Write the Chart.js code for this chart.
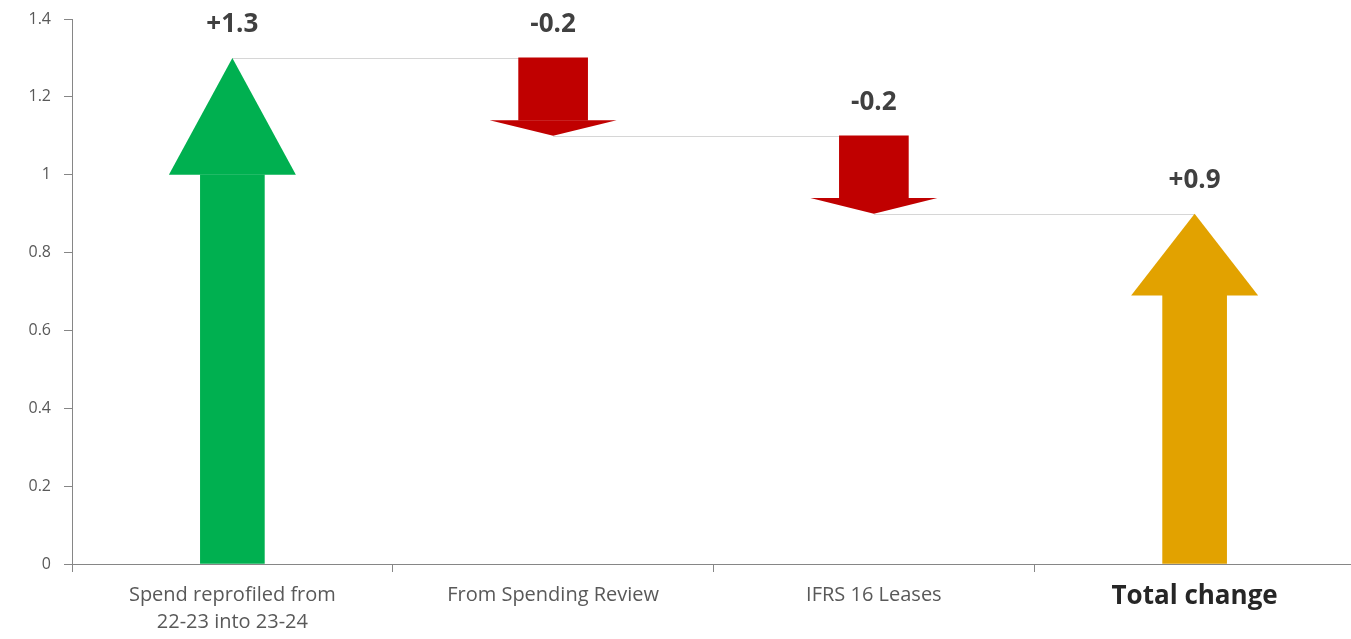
<!DOCTYPE html>
<html lang="en">
<head>
    <meta charset="UTF-8">
    <title>Waterfall</title>
    <script src="https://cdn.jsdelivr.net/npm/chart.js"></script>
    <style>
        body {
            margin: 0;
            background: #ffffff;
            overflow: hidden;
        }
        .wrap {
            width: 1355px;
            height: 639px;
        }
    </style>
</head>
<body>
    <div class="wrap"><canvas id="grafica"></canvas></div>

    <script>
        // Datos
        const categorias = [['Spend reprofiled from', '22-23 into 23-24'], 'From Spending Review', 'IFRS 16 Leases', 'Total change'];
        const inicios = [0, 1.3, 1.1, 0];
        const finales = [1.3, 1.1, 0.9, 0.9];
        const baseCabeza = [1.0, 1.14, 0.94, 0.69];   // donde empieza la punta de cada flecha
        const etiquetas = ['+1.3', '-0.2', '-0.2', '+0.9'];
        const tipos = ['sube', 'baja', 'baja', 'total'];
        const ticksY = [0, 0.2, 0.4, 0.6, 0.8, 1, 1.2, 1.4];

        const colores = { sube: '#00B050', baja: '#C00000', total: '#E2A200' };

        function tramo(tipo) {
            return categorias.map((c, i) => tipos[i] === tipo ? [inicios[i], baseCabeza[i]] : null);
        }

        // Lineas de union, puntas de flecha y etiquetas
        const flechas = {
            id: 'flechas',
            beforeDatasetsDraw(chart) {
                const { ctx, scales: { x, y } } = chart;
                ctx.save();
                ctx.strokeStyle = '#d6d6d6';
                ctx.lineWidth = 1;
                for (let i = 0; i < finales.length - 1; i++) {
                    const yy = Math.round(y.getPixelForValue(finales[i])) + 0.5;
                    ctx.beginPath();
                    ctx.moveTo(x.getPixelForValue(i), yy);
                    ctx.lineTo(x.getPixelForValue(i + 1), yy);
                    ctx.stroke();
                }
                ctx.restore();
            },
            afterDatasetsDraw(chart) {
                const { ctx, scales: { x, y } } = chart;
                ctx.save();
                finales.forEach((fin, i) => {
                    const cx = x.getPixelForValue(i);
                    const yb = y.getPixelForValue(baseCabeza[i]);
                    const yt = y.getPixelForValue(fin);
                    const medio = 63.5;
                    ctx.fillStyle = colores[tipos[i]];
                    ctx.beginPath();
                    ctx.moveTo(cx - medio, yb);
                    ctx.lineTo(cx + medio, yb);
                    ctx.lineTo(cx, yt);
                    ctx.closePath();
                    ctx.fill();

                    const arriba = y.getPixelForValue(Math.max(inicios[i], fin));
                    ctx.fillStyle = '#404040';
                    ctx.font = 'bold 26px "Open Sans"';
                    ctx.textAlign = 'center';
                    ctx.textBaseline = 'middle';
                    ctx.fillText(etiquetas[i], cx, arriba - 33);
                });
                ctx.restore();
            }
        };

        const datasetBase = { grouped: false, borderWidth: 0, borderSkipped: false };

        new Chart(document.getElementById('grafica'), {
            type: 'bar',
            data: {
                labels: categorias,
                datasets: [
                    { ...datasetBase, label: 'Sube', data: tramo('sube'), backgroundColor: colores.sube, barThickness: 64 },
                    { ...datasetBase, label: 'Baja', data: tramo('baja'), backgroundColor: colores.baja, barThickness: 69 },
                    { ...datasetBase, label: 'Total', data: tramo('total'), backgroundColor: colores.total, barThickness: 64 }
                ]
            },
            options: {
                responsive: true,
                maintainAspectRatio: false,
                animation: false,
                layout: { padding: 0 },
                plugins: {
                    legend: { display: false },
                    tooltip: { enabled: false }
                },
                scales: {
                    x: {
                        afterFit: s => { s.height = 75; },
                        border: { color: '#868686', width: 1 },
                        grid: { drawOnChartArea: false, tickLength: 8, color: '#868686' },
                        ticks: {
                            padding: 10,
                            color: ctx => ctx.index === 3 ? '#262626' : '#595959',
                            font: ctx => ctx.index === 3
                                ? { family: '"Open Sans"', size: 26, weight: 'bold', lineHeight: 1.1 }
                                : { family: '"Open Sans"', size: 20, lineHeight: 1.35 }
                        }
                    },
                    y: {
                        min: 0,
                        max: 1.4,
                        afterFit: s => { s.width = 72; s.paddingTop = 19; s.paddingBottom = 0; },
                        afterBuildTicks: s => { s.ticks = ticksY.map(v => ({ value: v })); },
                        border: { color: '#868686', width: 1 },
                        grid: { drawOnChartArea: false, tickLength: 8, color: '#868686' },
                        ticks: {
                            padding: 13,
                            color: '#595959',
                            font: { family: '"Open Sans"', size: 16 },
                            callback: v => String(Math.round(v * 10) / 10)
                        }
                    }
                }
            },
            plugins: [flechas]
        });
    </script>
</body>
</html>
